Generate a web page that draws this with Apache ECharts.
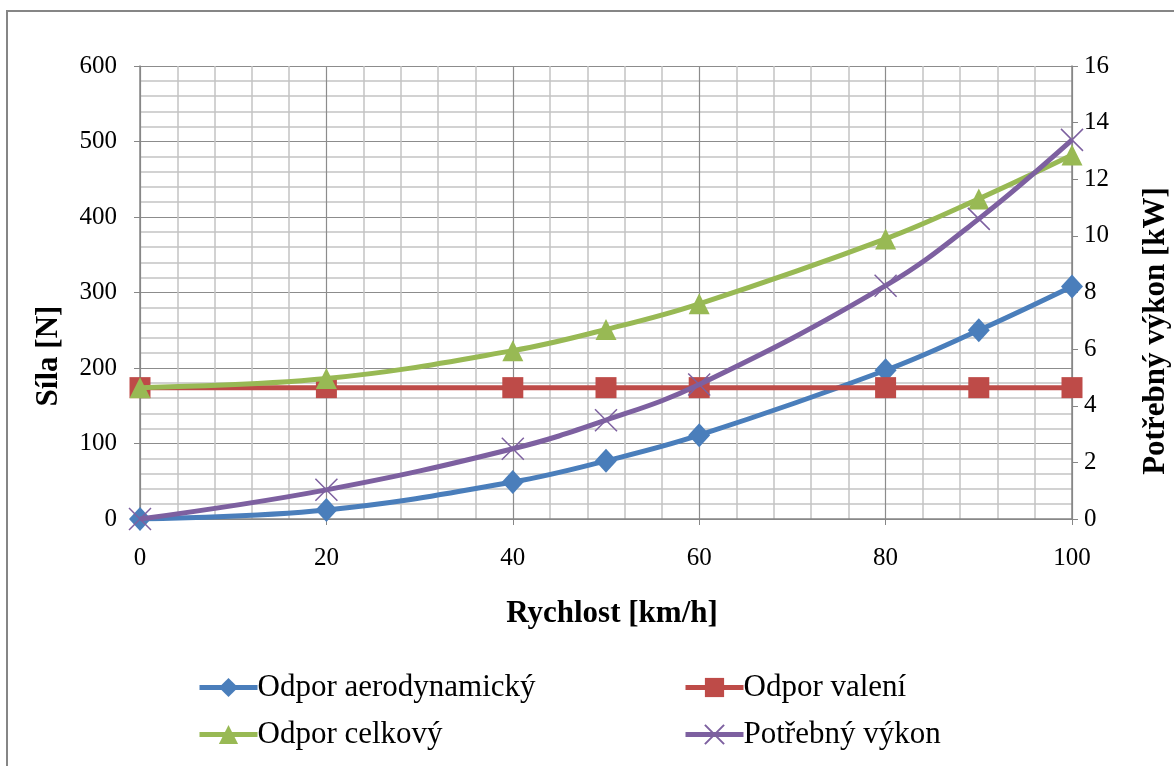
<!DOCTYPE html>
<html>
<head>
<meta charset="utf-8">
<script src="https://cdn.jsdelivr.net/npm/echarts@6/dist/echarts.min.js"></script>
<style>
  html, body { margin: 0; padding: 0; background: #fff; overflow: hidden; }
  #chart { width: 1174px; height: 766px; }
</style>
</head>
<body>
<div id="chart"></div>
<script>
// Speed in km/h
const speeds = [0, 20, 40, 50, 60, 80, 90, 100];
// Forces in N
const aeroDrag = [0, 12, 49, 77, 111, 197, 250, 308];
const rollingRes = [174, 174, 174, 174, 174, 174, 174, 174];
const totalRes = [174, 186, 223, 251, 285, 371, 424, 482];
// Required power in kW
const powerNeeded = [0, 1.03, 2.48, 3.49, 4.75, 8.24, 10.6, 13.39];

const seriesNames = ['Odpor aerodynamický', 'Odpor valení', 'Odpor celkový', 'Potřebný výkon'];
const axisTitles = { x: 'Rychlost [km/h]', left: 'Síla [N]', right: 'Potřebný výkon [kW]' };
const colors = ['#4A7EBB', '#BE4B48', '#98B954', '#7D60A0'];

const FONT = '"Liberation Serif", "Times New Roman", serif';

const pairs = (ys) => speeds.map((x, i) => [x, ys[i]]);

const chart = echarts.init(document.getElementById('chart'), null, { renderer: 'canvas' });

function lineSeries(idx, data, symbol, symbolSize, yAxisIndex, extra) {
  return Object.assign({
    name: seriesNames[idx],
    type: 'line',
    data: pairs(data),
    yAxisIndex: yAxisIndex,
    smooth: 0.4,
    symbol: symbol,
    symbolSize: symbolSize,
    lineStyle: { color: colors[idx], width: 5 },
    itemStyle: { color: colors[idx] },
    z: 10 + idx,
    animation: false
  }, extra || {});
}

function legendAt(name, left, top) {
  return {
    data: [name],
    left: left,
    top: top,
    padding: 0,
    itemWidth: 58,
    itemHeight: 24,
    itemGap: 0,
    selectedMode: false,
    lineStyle: { width: 5 },
    textStyle: { fontFamily: FONT, fontSize: 31, color: '#000', padding: [0, 0, 0, -5] }
  };
}

function titleText(text, x, y, rotation) {
  return {
    type: 'text',
    x: x, y: y,
    rotation: rotation,
    style: {
      text: text,
      fontFamily: FONT, fontSize: 31, fontWeight: 'bold', fill: '#000',
      align: 'center', verticalAlign: 'middle'
    },
    z: 5
  };
}

const option = {
  backgroundColor: '#fff',
  animation: false,
  graphic: [
    {
      type: 'rect',
      shape: { x: 7, y: 11, width: 1200, height: 800 },
      style: { fill: 'none', stroke: '#868686', lineWidth: 2 },
      z: -1
    },
    titleText(axisTitles.x, 612, 614, 0),
    titleText(axisTitles.left, 49, 356, Math.PI / 2),
    titleText(axisTitles.right, 1156, 331, Math.PI / 2)
  ],
  grid: { left: 140, right: 102, top: 66, bottom: 247 },
  legend: [
    legendAt(seriesNames[0], 197, 672),
    legendAt(seriesNames[1], 683, 672),
    legendAt(seriesNames[2], 197, 719),
    legendAt(seriesNames[3], 683, 719)
  ],
  xAxis: {
    type: 'value',
    min: 0, max: 100, interval: 20,
    axisLine: { show: true, lineStyle: { color: '#868686', width: 1.5 } },
    axisTick: { show: true, length: 6, lineStyle: { color: '#868686' } },
    axisLabel: { fontFamily: FONT, fontSize: 25, color: '#000', margin: 27 },
    splitLine: { show: true, lineStyle: { color: '#8C8C8C', width: 1.2 } },
    minorTick: { show: false, splitNumber: 5 },
    minorSplitLine: { show: true, lineStyle: { color: '#C4C4C4', width: 1.5 } }
  },
  yAxis: [{
    type: 'value',
    min: 0, max: 600, interval: 100,
    axisLine: { show: true, lineStyle: { color: '#868686', width: 1.5 } },
    axisTick: { show: true, length: 6, lineStyle: { color: '#868686' } },
    axisLabel: { fontFamily: FONT, fontSize: 25, color: '#000', margin: 23 },
    splitLine: { show: true, lineStyle: { color: '#8C8C8C', width: 1.2 } },
    minorTick: { show: false, splitNumber: 5 },
    minorSplitLine: { show: true, lineStyle: { color: '#C4C4C4', width: 1.5 } }
  }, {
    type: 'value',
    position: 'right',
    min: 0, max: 16, interval: 2,
    axisLine: { show: true, lineStyle: { color: '#868686', width: 1.5 } },
    axisTick: { show: true, length: 6, lineStyle: { color: '#868686' } },
    axisLabel: { fontFamily: FONT, fontSize: 25, color: '#000', margin: 12 },
    splitLine: { show: false }
  }],
  series: [
    lineSeries(0, aeroDrag, 'diamond', [22, 24], 0),
    lineSeries(1, rollingRes, 'rect', 21, 0),
    lineSeries(2, totalRes, 'triangle', 21, 0),
    lineSeries(3, powerNeeded,
      'path://M0,0 L1,1 M1,0 L0,1', 22, 1,
      { itemStyle: { color: 'none', borderColor: colors[3], borderWidth: 1.5 } })
  ]
};

chart.setOption(option);
</script>
</body>
</html>
